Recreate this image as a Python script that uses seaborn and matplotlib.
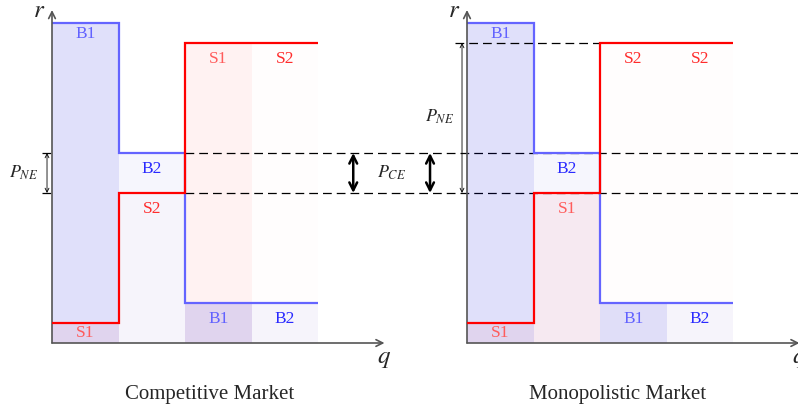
import numpy as np
import matplotlib.pyplot as plt
import seaborn as sns

sns.set_theme(style='white')
plt.rcParams['font.family'] = ['Liberation Serif', 'DejaVu Serif']
plt.rcParams['mathtext.fontset'] = 'stix'

# step curves: one unit of quantity per column
q_edges = [0, 1, 2, 3, 4]
buyer_r = [16, 9.5, 2, 2]
seller_r = [1, 7.5, 15, 15]
buyer_labels = ['B1', 'B2', 'B1', 'B2']
seller_labels_competitive = ['S1', 'S2', 'S1', 'S2']
seller_labels_monopolistic = ['S1', 'S1', 'S2', 'S2']
ce_band = [7.5, 9.5]
ne_band_competitive = [7.5, 9.5]
ne_band_monopolistic = [7.5, 15]
titles = ['Competitive Market', 'Monopolistic Market']

fill_alpha = {'B1': 0.12, 'B2': 0.035, 'S1': 0.05, 'S2': 0.008}
text_color = {'B1': '#6262ff', 'B2': '#2a2aff', 'S1': '#ff5c5c', 'S2': '#ff2c2c'}
BLUE_FILL = (0.0, 0.0, 0.85)
RED_FILL = (1.0, 0.0, 0.0)
AX_COLOR = '#555555'

W, H = 798, 411
X_UNIT, Y_UNIT = 66.5, 20.0   # pixels per data unit
Q_MAX, R_MAX = 5.0, 16.65


def make_axes(fig, x0_px):
    ax = fig.add_axes([x0_px / W, (H - 343) / H, Q_MAX * X_UNIT / W, R_MAX * Y_UNIT / H])
    ax.set_xlim(0, Q_MAX)
    ax.set_ylim(0, R_MAX)
    ax.axis('off')
    ax.patch.set_visible(False)
    return ax


def double_arrow(ax, q, band, lw, head):
    ax.annotate('', xy=(q, band[1]), xytext=(q, band[0]), annotation_clip=False,
                arrowprops=dict(arrowstyle='<->', lw=lw, color='black',
                                shrinkA=0, shrinkB=0, mutation_scale=head))


def draw_market(ax, seller_labels, ne_band, ne_label_pos):
    centers = np.array(q_edges[:-1]) + 0.5

    ax.bar(centers, seller_r, width=1, lw=0, zorder=1,
           color=[(*RED_FILL, fill_alpha[s]) for s in seller_labels])
    ax.bar(centers, buyer_r, width=1, lw=0, zorder=1.5,
           color=[(*BLUE_FILL, fill_alpha[b]) for b in buyer_labels])

    ax.stairs(buyer_r, q_edges, baseline=None, color='#6464ff', lw=1.6, zorder=3)
    ax.stairs(seller_r, q_edges, baseline=None, color='#ff0000', lw=1.6, zorder=3.5)

    for c, top, lab in zip(centers, buyer_r, buyer_labels):
        y = top - 0.55 if top > 10 else max(top - 0.8, top / 2)
        ax.text(c, y, lab, ha='center', va='center', fontsize=12.5,
                color=text_color[lab], zorder=4)
    for c, top, lab in zip(centers, seller_r, seller_labels):
        ax.text(c, max(top - 0.8, top / 2), lab, ha='center', va='center',
                fontsize=12.5, color=text_color[lab], zorder=4)

    # axes with open arrow heads
    for end in [(Q_MAX, 0), (0, R_MAX)]:
        ax.annotate('', xy=end, xytext=(0, 0), annotation_clip=False,
                    arrowprops=dict(arrowstyle='->', lw=1.2, color=AX_COLOR,
                                    shrinkA=0, shrinkB=0, mutation_scale=12))
    ax.text(-0.2, 16.6, '$r$', fontsize=18, ha='center', va='center')
    ax.text(4.99, -0.8, '$q$', fontsize=18, ha='center', va='center', clip_on=False)

    # Nash equilibrium price range
    double_arrow(ax, -0.075, ne_band, lw=0.6, head=7)
    ax.text(*ne_label_pos, '$P_{NE}$', fontsize=13, ha='center', va='center')


fig = plt.figure(figsize=(W / 100, H / 100), dpi=100)
ax_c = make_axes(fig, 52)
ax_m = make_axes(fig, 467)

dash = dict(color='black', lw=0.9, ls=(0, (7, 4)), clip_on=False, zorder=2)
for lvl in ce_band:
    ax_c.plot([-0.15, 0], [lvl, lvl], **dash)
    ax_c.plot([2, 12], [lvl, lvl], **dash)
ax_m.plot([-0.18, 2], [ne_band_monopolistic[1]] * 2, **dash)

draw_market(ax_c, seller_labels_competitive, ne_band_competitive, (-0.42, 8.5))
draw_market(ax_m, seller_labels_monopolistic, ne_band_monopolistic, (-0.41, 11.3))

# competitive equilibrium price range, shown between the two panels
double_arrow(ax_c, 4.53, ce_band, lw=1.8, head=14)
double_arrow(ax_m, -0.556, ce_band, lw=1.8, head=14)
ax_c.text(5.11, 8.5, '$P_{CE}$', fontsize=13, ha='center', va='center')

fig.text(210 / W, 1 - 394 / H, titles[0], fontsize=15, ha='center', va='center')
fig.text(618 / W, 1 - 394 / H, titles[1], fontsize=15, ha='center', va='center')

fig.savefig('out.png', dpi=100)
